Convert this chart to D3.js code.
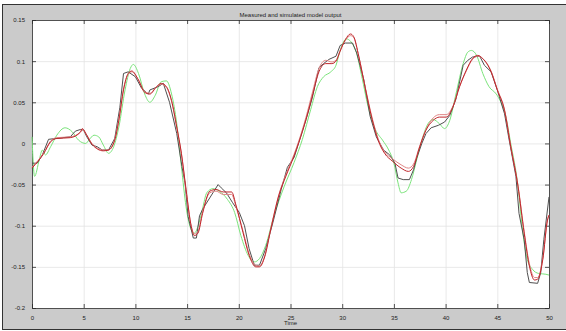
<!DOCTYPE html>
<html>
<head>
<meta charset="utf-8">
<script src="https://cdn.jsdelivr.net/npm/d3@7"></script>
<style>
  body { margin: 0; background: #fff; }
  svg { display: block; font-family: "Liberation Sans", Arial, sans-serif; }
  .grid line { stroke: #e3e3e3; stroke-width: 0.8; }
  .grid .domain { display: none; }
  .axis .domain { stroke: #2a2a2a; stroke-width: 0.8; }
  .axis line { stroke: #2a2a2a; stroke-width: 0.8; }
  .axis text { fill: #222; font-size: 6px; }
  .line { fill: none; stroke-width: 1; }
</style>
</head>
<body>
<svg id="chart" width="566" height="331"></svg>
<script>
// measured output (stepwise)
var measT = [0, 0.5, 1, 1.6, 2.3, 3.7, 4.2, 4.7, 5, 5.3, 5.8, 6.3, 6.8, 7.4, 8, 8.5, 8.85, 9.3, 10, 10.6, 11.25, 11.4, 12.2, 12.7, 13.3, 14, 14.5, 14.8, 15.1, 15.6, 15.9, 16.2, 16.5, 17, 17.5, 18, 18.3, 18.8, 19.4, 20.05, 20.55, 21, 21.5, 22, 22.6, 23.3, 24.1, 24.7, 25.35, 25.8, 26.5, 27.1, 27.75, 28.2, 28.7, 29.4, 29.8, 30.3, 31, 31.4, 32.1, 32.7, 33.3, 34, 34.6, 35.1, 35.4, 35.9, 36.5, 36.9, 37.2, 37.7, 38.1, 38.6, 39.3, 39.9, 40.4, 41, 41.7, 42.15, 42.6, 43.3, 43.75, 44.4, 45, 45.7, 46.15, 46.8, 47.1, 47.6, 47.9, 48.1, 48.9, 49.2, 49.5, 50];
var measY = [-0.024, -0.024, -0.014, 0.005, 0.006, 0.008, 0.015, 0.017, 0.016, 0.008, -0.002, -0.004, -0.008, -0.008, 0.006, 0.044, 0.085, 0.087, 0.081, 0.067, 0.06, 0.065, 0.069, 0.073, 0.05, 0.012, -0.028, -0.048, -0.089, -0.115, -0.115, -0.088, -0.08, -0.07, -0.06, -0.05, -0.054, -0.06, -0.072, -0.084, -0.1, -0.128, -0.148, -0.148, -0.128, -0.096, -0.056, -0.029, -0.017, 0.001, 0.029, 0.055, 0.092, 0.097, 0.102, 0.106, 0.119, 0.122, 0.122, 0.11, 0.077, 0.033, 0.008, -0.008, -0.014, -0.024, -0.042, -0.044, -0.044, -0.032, -0.018, 0, 0.012, 0.019, 0.022, 0.026, 0.034, 0.054, 0.095, 0.101, 0.105, 0.106, 0.095, 0.087, 0.065, 0.036, 0.004, -0.04, -0.085, -0.117, -0.157, -0.169, -0.17, -0.157, -0.117, -0.065];

// model 1 (green)
var greenT = [0, 0.25, 0.7, 1, 1.3, 1.8, 2.4, 3.2, 3.9, 4.5, 5.2, 5.5, 6, 6.45, 6.9, 7.4, 7.9, 8.4, 9, 9.5, 9.8, 10.3, 10.9, 11.4, 11.9, 12.5, 13, 13.5, 14, 14.45, 14.9, 15.4, 15.7, 16.05, 16.5, 16.9, 17.5, 18.1, 18.9, 19.6, 20.2, 20.9, 21.5, 22, 22.6, 23.4, 24.4, 25.35, 26.15, 26.95, 27.6, 28.2, 28.9, 29.4, 29.8, 30.4, 31.3, 31.9, 32.5, 33.2, 33.9, 34.5, 35, 35.4, 35.7, 36.2, 36.7, 37.2, 37.8, 38.3, 38.8, 39.4, 39.9, 40.4, 41, 41.7, 42.15, 42.5, 43, 43.6, 44.2, 44.9, 45.35, 45.8, 46.3, 47, 47.4, 47.9, 48.4, 49, 49.7, 50];
var greenY = [0.008, -0.04, -0.02, -0.008, -0.014, -0.004, 0.01, 0.019, 0.014, 0.004, 0, 0.004, 0.01, 0.008, -0.002, -0.012, -0.004, 0.02, 0.065, 0.091, 0.096, 0.085, 0.06, 0.05, 0.058, 0.075, 0.076, 0.06, 0.024, -0.028, -0.077, -0.105, -0.109, -0.101, -0.079, -0.06, -0.055, -0.058, -0.068, -0.084, -0.112, -0.136, -0.144, -0.14, -0.124, -0.088, -0.052, -0.023, 0.005, 0.041, 0.069, 0.081, 0.087, 0.095, 0.113, 0.127, 0.113, 0.081, 0.045, 0.017, 0.004, -0.008, -0.024, -0.048, -0.06, -0.058, -0.044, -0.02, 0.008, 0.024, 0.029, 0.024, 0.018, 0.028, 0.06, 0.097, 0.111, 0.113, 0.107, 0.085, 0.069, 0.06, 0.05, 0.034, 0, -0.052, -0.101, -0.141, -0.153, -0.158, -0.159, -0.16];

// model 2 (red)
var redT = [0, 1.15, 1.8, 2.4, 3.7, 4.7, 4.85, 5.3, 5.8, 6.9, 7.4, 8, 8.4, 8.85, 9.3, 9.65, 10.3, 10.9, 11.4, 12.05, 12.5, 13, 13.5, 14, 14.45, 14.9, 15.4, 15.7, 16.05, 16.5, 17.2, 17.8, 18.5, 19.3, 19.75, 20.4, 21, 21.65, 22, 22.5, 23.1, 23.9, 24.55, 25.35, 25.8, 26.5, 27.1, 27.75, 28.4, 29, 29.4, 29.8, 30.3, 30.8, 31.1, 31.6, 32.2, 32.9, 33.5, 34.1, 34.9, 35.7, 36.4, 36.9, 37.5, 38.1, 38.8, 39.4, 40.05, 40.7, 41.35, 42, 42.6, 43.1, 43.6, 44.4, 45, 45.7, 46.3, 47, 47.6, 48.1, 48.6, 48.9, 49.4, 49.85, 50];
var redY = [-0.03, -0.012, 0.002, 0.006, 0.007, 0.014, 0.018, 0.01, -0.001, -0.009, -0.008, 0.004, 0.028, 0.065, 0.085, 0.088, 0.077, 0.062, 0.06, 0.069, 0.073, 0.069, 0.052, 0.02, -0.012, -0.056, -0.101, -0.112, -0.109, -0.085, -0.058, -0.056, -0.059, -0.059, -0.076, -0.108, -0.136, -0.15, -0.15, -0.138, -0.104, -0.062, -0.04, -0.015, 0.001, 0.029, 0.057, 0.087, 0.097, 0.097, 0.1, 0.112, 0.126, 0.133, 0.13, 0.106, 0.069, 0.029, 0.003, -0.012, -0.022, -0.03, -0.034, -0.028, -0.004, 0.016, 0.028, 0.032, 0.032, 0.044, 0.069, 0.089, 0.103, 0.107, 0.103, 0.087, 0.065, 0.04, -0.004, -0.052, -0.109, -0.149, -0.166, -0.165, -0.141, -0.093, -0.087];

// model 3 (light red)
var pinkT = [0, 1.15, 1.8, 2.4, 3.7, 4.7, 4.85, 5.3, 5.8, 6.9, 7.4, 8, 8.4, 8.85, 9.3, 9.65, 10.3, 10.9, 11.4, 12.05, 12.5, 13, 13.5, 14, 14.45, 14.9, 15.4, 15.7, 16.05, 16.5, 17.2, 17.8, 18.5, 19.3, 19.75, 20.4, 21, 21.65, 22, 22.5, 23.1, 23.9, 24.55, 25.35, 25.8, 26.5, 27.1, 27.75, 28.4, 29, 29.4, 29.8, 30.3, 30.8, 31.1, 31.6, 32.2, 32.9, 33.5, 34.1, 34.9, 35.7, 36.4, 36.9, 37.5, 38.1, 38.8, 39.4, 40.05, 40.7, 41.35, 42, 42.6, 43.1, 43.6, 44.4, 45, 45.7, 46.3, 47, 47.6, 48.1, 48.6, 48.9, 49.4, 49.85, 50];
var pinkY = [-0.029, -0.011, 0.003, 0.007, 0.008, 0.014, 0.017, 0.01, 0, -0.008, -0.008, 0.005, 0.03, 0.066, 0.084, 0.087, 0.077, 0.063, 0.061, 0.069, 0.072, 0.068, 0.051, 0.019, -0.013, -0.057, -0.1, -0.11, -0.107, -0.083, -0.06, -0.058, -0.062, -0.062, -0.078, -0.106, -0.134, -0.148, -0.149, -0.137, -0.103, -0.061, -0.038, -0.013, 0.003, 0.032, 0.061, 0.091, 0.101, 0.099, 0.101, 0.113, 0.125, 0.131, 0.129, 0.106, 0.07, 0.031, 0.005, -0.01, -0.019, -0.026, -0.03, -0.025, -0.003, 0.017, 0.031, 0.035, 0.035, 0.045, 0.069, 0.088, 0.102, 0.106, 0.103, 0.088, 0.066, 0.041, -0.003, -0.051, -0.107, -0.146, -0.163, -0.163, -0.14, -0.094, -0.088];

var xTicks = [0, 5, 10, 15, 20, 25, 30, 35, 40, 45, 50];
var yTicks = [-0.2, -0.15, -0.1, -0.05, 0, 0.05, 0.1, 0.15];
var titleText = "Measured and simulated model output";
var xLabel = "Time";

var svg = d3.select("#chart");
var margin = { top: 20, right: 17, bottom: 23, left: 32 };
var W = 566, H = 331;

// figure background
svg.append("rect")
    .attr("x", 2.5).attr("y", 4.5)
    .attr("width", W).attr("height", 325)
    .attr("fill", "#cbcbcb")
    .attr("stroke", "#333").attr("stroke-width", 1);

var xScale = d3.scaleLinear().domain([0, 50]).range([margin.left, W - margin.right]);
var yScale = d3.scaleLinear().domain([-0.2, 0.15]).range([H - margin.bottom, margin.top]);

svg.append("rect")
    .attr("x", xScale(0)).attr("y", yScale(0.15))
    .attr("width", xScale(50) - xScale(0))
    .attr("height", yScale(-0.2) - yScale(0.15))
    .attr("fill", "#fff");

// gridlines
svg.append("g").attr("class", "grid")
    .attr("transform", "translate(0," + yScale(-0.2) + ")")
    .call(d3.axisBottom(xScale).tickValues(xTicks).tickSize(-(yScale(-0.2) - yScale(0.15))).tickFormat(""));
svg.append("g").attr("class", "grid")
    .attr("transform", "translate(" + xScale(0) + ",0)")
    .call(d3.axisLeft(yScale).tickValues(yTicks).tickSize(-(xScale(50) - xScale(0))).tickFormat(""));

var fmt = function (d) { return d === 0 ? "0" : String(+d.toFixed(2)); };

// axes (box with inward ticks)
svg.append("g").attr("class", "axis")
    .attr("transform", "translate(0," + yScale(-0.2) + ")")
    .call(d3.axisBottom(xScale).tickValues(xTicks).tickSizeInner(-4).tickSizeOuter(0).tickPadding(8).tickFormat(fmt));
svg.append("g").attr("class", "axis")
    .attr("transform", "translate(" + xScale(0) + ",0)")
    .call(d3.axisLeft(yScale).tickValues(yTicks).tickSizeInner(-4).tickSizeOuter(0).tickPadding(7).tickFormat(fmt));
svg.append("g").attr("class", "axis")
    .attr("transform", "translate(0," + yScale(0.15) + ")")
    .call(d3.axisTop(xScale).tickValues(xTicks).tickSizeInner(-4).tickSizeOuter(0).tickFormat(""));
svg.append("g").attr("class", "axis")
    .attr("transform", "translate(" + xScale(50) + ",0)")
    .call(d3.axisRight(yScale).tickValues(yTicks).tickSizeInner(-4).tickSizeOuter(0).tickFormat(""));

function zip(ts, vs) { return ts.map(function (t, i) { return { t: t, v: vs[i] }; }); }

var smooth = d3.line().x(function (d) { return xScale(d.t); }).y(function (d) { return yScale(d.v); }).curve(d3.curveMonotoneX);
var jagged = d3.line().x(function (d) { return xScale(d.t); }).y(function (d) { return yScale(d.v); });

var plot = svg.append("g");
plot.append("path").datum(zip(greenT, greenY)).attr("class", "line").attr("stroke", "#7ae47a").attr("d", smooth);
plot.append("path").datum(zip(measT, measY)).attr("class", "line").attr("stroke", "#505050").attr("d", jagged);
plot.append("path").datum(zip(pinkT, pinkY)).attr("class", "line").attr("stroke", "#e08585").attr("d", smooth);
plot.append("path").datum(zip(redT, redY)).attr("class", "line").attr("stroke", "#c0262b").attr("d", smooth);

svg.append("text")
    .attr("x", (xScale(0) + xScale(50)) / 2).attr("y", 17)
    .attr("text-anchor", "middle").attr("font-size", "6px").attr("fill", "#222")
    .text(titleText);

svg.append("text")
    .attr("x", (xScale(0) + xScale(50)) / 2).attr("y", 325)
    .attr("text-anchor", "middle").attr("font-size", "6px").attr("fill", "#222")
    .text(xLabel);
</script>
</body>
</html>
